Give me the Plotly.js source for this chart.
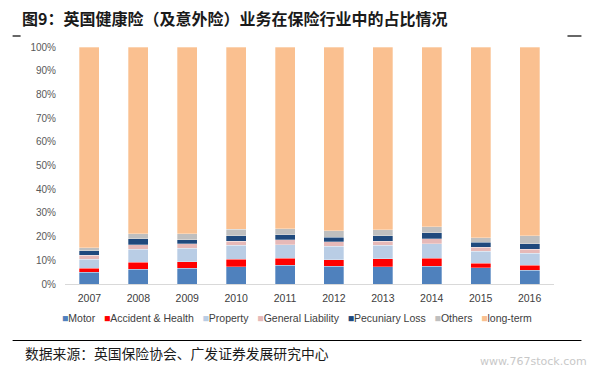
<!DOCTYPE html>
<html>
<head>
<meta charset="utf-8">
<script src="https://cdn.plot.ly/plotly-3.0.1.min.js"></script>
<style>html,body{margin:0;padding:0;background:#fff;}#chart{width:594px;height:370px;}</style>
</head>
<body>
<div id="chart"></div>
<script>
const years = ['2007','2008','2009','2010','2011','2012','2013','2014','2015','2016'];
const motor     = [4.9, 6.3, 6.6, 7.3, 7.9, 7.5, 7.3, 7.5, 6.9, 5.9];
const accident  = [1.8, 2.8, 2.8, 3.1, 2.9, 2.8, 3.4, 3.3, 1.8, 2.0];
const property  = [3.8, 5.5, 5.6, 5.9, 5.8, 5.6, 5.6, 6.2, 5.2, 5.1];
const genLiab   = [1.6, 2.0, 2.0, 1.8, 2.0, 1.9, 1.8, 2.0, 1.7, 1.6];
const pecuniary = [2.0, 2.4, 1.7, 2.3, 2.2, 2.0, 2.3, 2.6, 2.1, 2.3];
const others    = [1.2, 2.2, 2.5, 2.8, 2.5, 2.7, 2.5, 2.5, 1.8, 3.4];
const longTerm  = [84.7, 78.8, 78.8, 76.8, 76.7, 77.5, 77.1, 75.9, 80.5, 79.7];
const yTicks = [0,10,20,30,40,50,60,70,80,90,100];
const yTickLabels = yTicks.map(v => v + '%');

const series = [
  {name:'Motor', y:motor, color:'#4F81BD'},
  {name:'Accident & Health', y:accident, color:'#FF0000'},
  {name:'Property', y:property, color:'#B9CDE5'},
  {name:'General Liability', y:genLiab, color:'#E6B9B8'},
  {name:'Pecuniary Loss', y:pecuniary, color:'#1F497D'},
  {name:'Others', y:others, color:'#BFBFBF'},
  {name:'long-term', y:longTerm, color:'#FAC090'}
];

const traces = series.map(s => ({
  type:'bar', name:s.name, x:years, y:s.y,
  marker:{color:s.color, line:{color:'rgba(255,255,255,0.6)', width:0.5}},
  hoverinfo:'x+y+name'
}));

const L = 64.5, R = 554.5, T = 47, B = 284;
const px = x => (x - L) / (R - L);
const py = y => (B - y) / (B - T);

const legendText = series.map(s => '<span style="color:' + s.color + '">■</span>' + s.name).join('   ');

const layout = {
  width:594, height:370,
  margin:{l:L, r:594-R, t:T, b:370-B, pad:0},
  paper_bgcolor:'#fff', plot_bgcolor:'#fff',
  barmode:'stack', bargap:0.59,
  showlegend:false,
  font:{family:'Liberation Sans, Arial, sans-serif', size:10, color:'#595959'},
  title:{text:'图9：英国健康险（及意外险）业务在保险行业中的占比情况',
    font:{family:'Noto Sans CJK SC', size:16, color:'#1a1a1a', weight:'bold'},
    x:22/594, xanchor:'left', xref:'container', y:1-19/370, yanchor:'middle', yref:'container'},
  xaxis:{type:'category', showgrid:false, zeroline:false, showline:true, linecolor:'#D9D9D9', linewidth:1,
    ticks:'', tickfont:{size:10.5, color:'#404040'}, ticklabelstandoff:4, fixedrange:true},
  yaxis:{range:[0,100], tickvals:yTicks, ticktext:yTickLabels, showgrid:false, zeroline:false, showline:false,
    ticks:'', tickfont:{size:10, color:'#595959'}, ticklabelstandoff:8, fixedrange:true},
  shapes:[
    {type:'line', xref:'paper', yref:'paper', x0:px(12), x1:px(20), y0:py(36), y1:py(36), line:{color:'#000', width:1.2}},
    {type:'line', xref:'paper', yref:'paper', x0:px(568), x1:px(582), y0:py(36), y1:py(36), line:{color:'#000', width:1.2}},
    {type:'line', xref:'paper', yref:'paper', x0:px(12), x1:px(582), y0:py(340.5), y1:py(340.5), line:{color:'#000', width:1.2}}
  ],
  annotations:[
    {text:legendText, xref:'paper', yref:'paper', x:px(297), y:py(318), xanchor:'center', yanchor:'middle',
      showarrow:false, font:{size:10.5, color:'#404040'}},
    {text:'数据来源：英国保险协会、广发证券发展研究中心', xref:'paper', yref:'paper', x:px(22), y:py(353),
      xanchor:'left', yanchor:'middle', showarrow:false, font:{family:'Noto Sans CJK SC', size:13.8, color:'#1a1a1a'}},
    {text:'www.767stock.com', xref:'paper', yref:'paper', x:px(590), y:py(361), xanchor:'right', yanchor:'middle',
      showarrow:false, font:{family:'DejaVu Sans', size:11, color:'#c8c8c8'}}
  ]
};

Plotly.newPlot('chart', traces, layout, {displayModeBar:false, staticPlot:true});
</script>
</body>
</html>
